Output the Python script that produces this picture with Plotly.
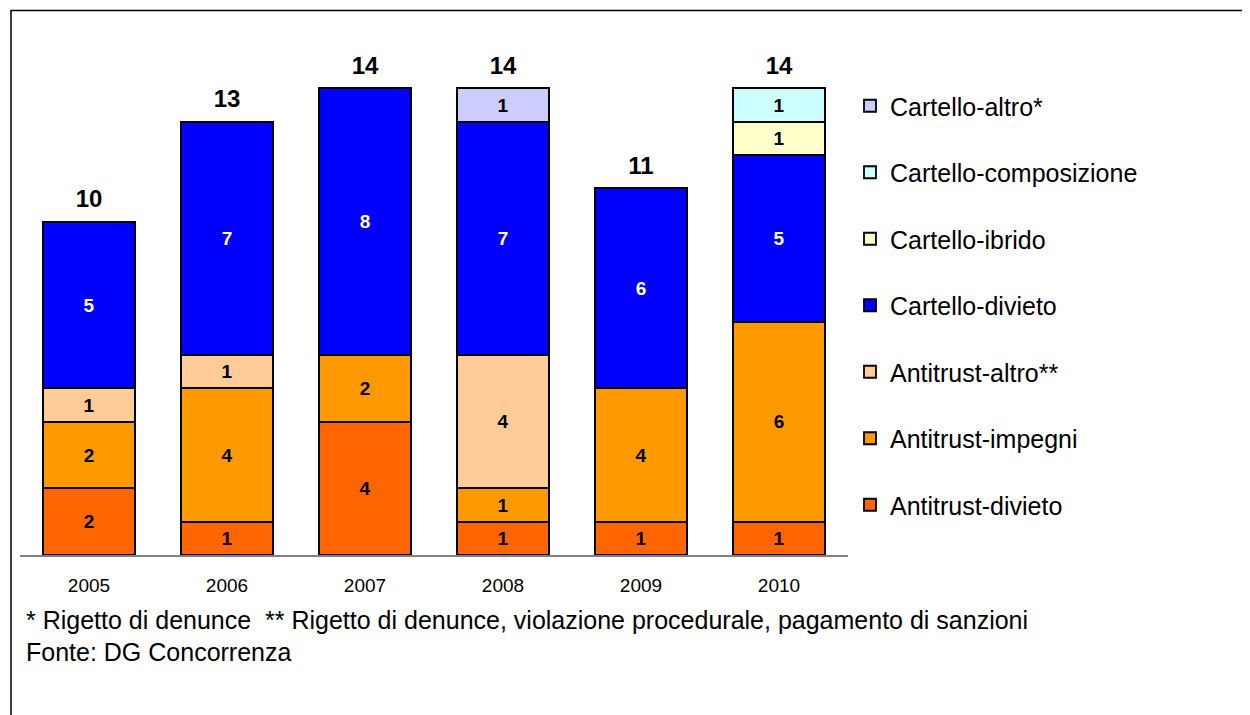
import plotly.graph_objects as go

years = ["2005", "2006", "2007", "2008", "2009", "2010"]
antitrust_divieto = [2, 1, 4, 1, 1, 1]
antitrust_impegni = [2, 4, 2, 1, 4, 6]
antitrust_altro = [1, 1, None, 4, None, None]
cartello_divieto = [5, 7, 8, 7, 6, 5]
cartello_ibrido = [None, None, None, None, None, 1]
cartello_composizione = [None, None, None, None, None, 1]
cartello_altro = [None, None, None, 1, None, None]
totals = [10, 13, 14, 14, 11, 14]

series = [
    ("Antitrust-divieto", antitrust_divieto, "#FF6600", "black"),
    ("Antitrust-impegni", antitrust_impegni, "#FF9900", "black"),
    ("Antitrust-altro**", antitrust_altro, "#FFCC99", "black"),
    ("Cartello-divieto", cartello_divieto, "#0000FF", "white"),
    ("Cartello-ibrido", cartello_ibrido, "#FFFFCC", "black"),
    ("Cartello-composizione", cartello_composizione, "#CCFFFF", "black"),
    ("Cartello-altro*", cartello_altro, "#CCCCFF", "black"),
]

FONT = "Liberation Sans, Arial, sans-serif"

# figure-pixel geometry (page is offset by 8px body margin)
L, T, PW, PH = 12, 47, 828, 500
def px(x):
    return (x - 8 - L) / PW
def py(y):
    return (T + PH - (y - 8)) / PH

fig = go.Figure()
n = len(series)
for i, (name, vals, color, tcol) in enumerate(series):
    fig.add_trace(go.Bar(
        x=years, y=vals, name=name, legendgroup=name, legendrank=100 + (n - i),
        marker=dict(color=color, line=dict(color="black", width=1.8)),
        text=[("" if v is None else str(v)) for v in vals],
        textposition="inside", insidetextanchor="middle", textangle=0,
        textfont=dict(family=FONT, size=19, color=tcol, weight="bold"),
        constraintext="none",
        hoverinfo="skip",
    ))

fig.add_trace(go.Scatter(
    x=years, y=totals, mode="markers+text", text=[str(t) for t in totals],
    textposition="top center", showlegend=False, hoverinfo="skip", cliponaxis=False,
    marker=dict(size=12, color="rgba(0,0,0,0)"),
    textfont=dict(family=FONT, size=24, color="black", weight="bold"),
))

fig.add_annotation(xref="paper", yref="paper", x=px(24), y=py(620),
                   xanchor="left", yanchor="middle", showarrow=False,
                   text="* Rigetto di denunce  ** Rigetto di denunce, violazione procedurale, pagamento di sanzioni",
                   font=dict(family=FONT, size=25, color="black"))
fig.add_annotation(xref="paper", yref="paper", x=px(24), y=py(652),
                   xanchor="left", yanchor="middle", showarrow=False,
                   text="Fonte: DG Concorrenza",
                   font=dict(family=FONT, size=25, color="black"))

fig.add_shape(type="rect", xref="paper", yref="paper",
              x0=px(11), x1=px(1275), y0=py(740), y1=py(10.5),
              line=dict(color="black", width=1.5), fillcolor="rgba(0,0,0,0)", layer="below")

fig.update_layout(
    width=1250, height=715,
    margin=dict(l=L, r=1250 - L - PW, t=T, b=715 - T - PH),
    barmode="stack", bargap=0.333,
    plot_bgcolor="white", paper_bgcolor="white",
    font=dict(family=FONT, color="black"),
    showlegend=True,
    legend=dict(x=px(850), xanchor="left", y=py(83), yanchor="top",
                traceorder="grouped", tracegroupgap=31,
                font=dict(family=FONT, size=25, color="black"),
                itemwidth=30, bgcolor="rgba(0,0,0,0)"),
    xaxis=dict(type="category", showline=True, linecolor="#808080", linewidth=1.5, ticks="",
               tickfont=dict(family=FONT, size=19, color="black"), showgrid=False,
               ticklabelstandoff=12, range=[-0.5, 5.5]),
    yaxis=dict(range=[0, 15], showticklabels=False, showline=False, zeroline=False,
               showgrid=False, ticks=""),
)

fig.write_html("out.html")
